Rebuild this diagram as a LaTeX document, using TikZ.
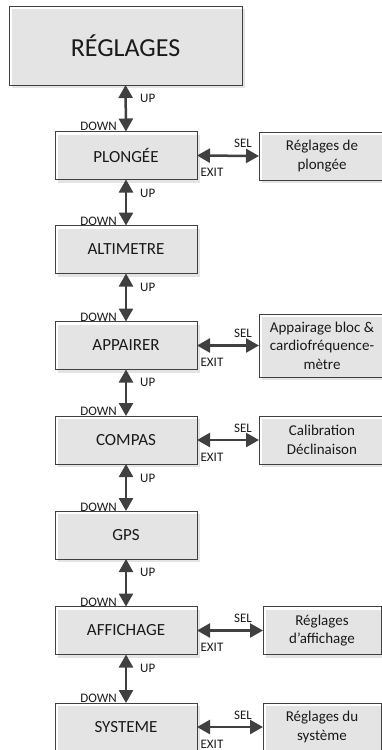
\documentclass[tikz,border=0pt]{standalone}
\usepackage{fontspec}
\setmainfont{Carlito}
\usetikzlibrary{arrows.meta,shadows}
\definecolor{boxgray}{HTML}{E4E4E4}
\definecolor{linegray}{HTML}{404040}
\definecolor{txt}{HTML}{1A1A1A}
\begin{document}
\begin{tikzpicture}[x=1pt,y=-1pt,
  menubox/.style={draw=linegray,line width=0.9pt,rectangle,outer sep=0pt,inner sep=0pt,
    general shadow={fill=boxgray,shadow xshift=3pt,shadow yshift=-3pt},
    text=txt,font=\fontsize{17}{20}\selectfont,minimum width=142pt,minimum height=48pt},
  subbox/.style={menubox,font=\fontsize{15}{18.5}\selectfont,align=center},
  arr/.style={draw=linegray,line width=2.5pt,{Triangle[width=14pt,length=13pt]}-{Triangle[width=14pt,length=13pt]},shorten <=0pt,shorten >=0pt},
  lbl/.style={inner sep=0pt,text=txt,font=\fontsize{13}{15}\selectfont}]
\useasboundingbox (0,0) rectangle (381,750);
% main
\node[menubox,minimum width=233pt,minimum height=79pt,font=\fontsize{26}{30}\selectfont] (reg) at (125.5,45.5) {RÉGLAGES};
% left column
\node[menubox] (plo) at (126,155.5) {PLONGÉE};
\node[menubox] (alt) at (126,249.5) {ALTIMETRE};
\node[menubox] (app) at (126,345.5) {APPAIRER};
\node[menubox] (com) at (126,440) {COMPAS};
\node[menubox] (gps) at (126,535) {GPS};
\node[menubox] (aff) at (126,630.5) {AFFICHAGE};
\node[menubox] (sys) at (126,727) {SYSTEME};
% right column
\node[subbox,minimum width=126pt] (rplo) at (322,156) {Réglages de\\plongée};
\node[subbox,minimum width=126pt,minimum height=63pt] (rapp) at (322,345.5) {Appairage bloc \&\\cardiofréquence-\\mètre};
\node[subbox,minimum width=126pt] (rcom) at (322,440) {Calibration\\Déclinaison};
\node[subbox,minimum width=118pt] (raff) at (322,630.5) {Réglages\\d’affichage};
\node[subbox,minimum width=118pt] (rsys) at (322,727) {Réglages du\\système};
% vertical arrows
\draw[arr] (reg.south) -- (plo.north);
\draw[arr] (plo.south) -- (alt.north);
\draw[arr] (alt.south) -- (app.north);
\draw[arr] (app.south) -- (com.north);
\draw[arr] (com.south) -- (gps.north);
\draw[arr] (gps.south) -- (aff.north);
\draw[arr] (aff.south) -- (sys.north);
% horizontal arrows
\draw[arr] (plo.east) -- (rplo.west);
\draw[arr] (app.east) -- (rapp.west);
\draw[arr] (com.east) -- (rcom.west);
\draw[arr] (aff.east) -- (raff.west);
\draw[arr] (sys.east) -- (rsys.west);
% UP / DOWN labels
\foreach \t/\b [count=\i] in {98/126, 193/221, 287/317, 382/411, 478/507, 572/602, 668/698}{
  \node[lbl,anchor=west] (up\i) at (140,\t) {UP};
  \node[lbl,anchor=east] (dn\i) at (117,\b) {DOWN};
}
% SEL / EXIT labels
\foreach \y [count=\i] in {155.5,345.5,440,630.5,727}{
  \node[lbl] (sel\i) at (243,\y-12) {SEL};
  \node[lbl] (exit\i) at (212,\y+17) {EXIT};
}
\end{tikzpicture}
\end{document}
